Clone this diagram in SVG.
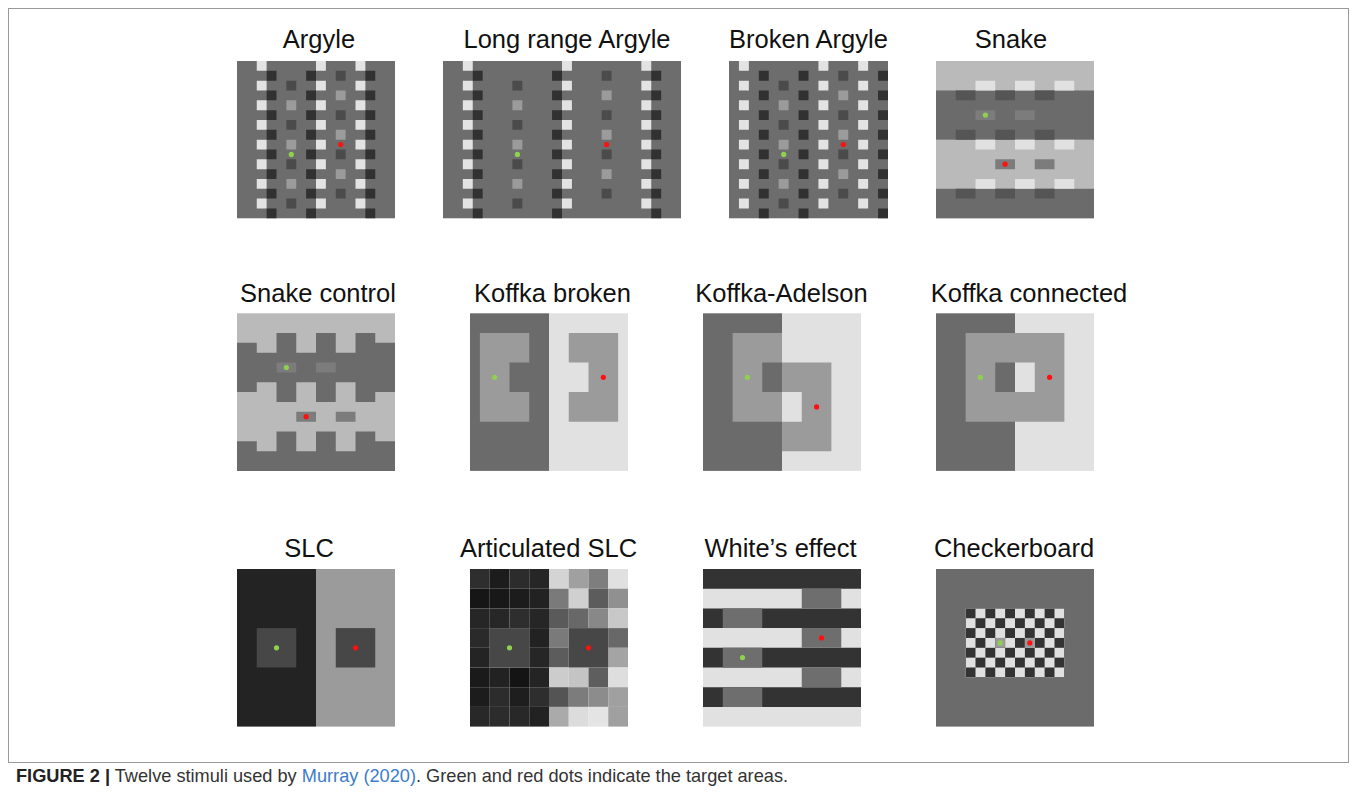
<svg xmlns="http://www.w3.org/2000/svg" width="1357" height="793" viewBox="0 0 1357 793">
<defs>
<style>
.t{font-family:"Liberation Sans",Arial,sans-serif;font-size:25.5px;fill:#111;text-anchor:middle}
.cap{font-family:"Liberation Sans",Arial,sans-serif;font-size:18.2px;fill:#333}
.bg{fill:#6d6d6d}
.w{stroke:#e3e3e3;stroke-width:1;stroke-dasharray:1 1;fill:none}
.d{stroke:#313131;stroke-width:1;stroke-dasharray:1 1;fill:none}
.tl{stroke:#9b9b9b;stroke-width:1;stroke-dasharray:1 3;fill:none}
.td{stroke:#4b4b4b;stroke-width:1;stroke-dasharray:1 3;fill:none}
.g{fill:#8fd14f}
.r{fill:#ff1010}
.lt{fill:#bababa}
.dk{fill:#6b6b6b}
.wh{fill:#e1e1e1}
.mid{fill:#9b9b9b}
.tg{fill:#7c7c7c}
.sq{fill:#555}
.slcd{fill:#232323}
.tsq{fill:#474747}
.wd{fill:#333}
.wp{fill:#6e6e6e}
</style>
<pattern id="chk" x="3" y="4" width="2" height="2" patternUnits="userSpaceOnUse"><rect width="2" height="2" fill="#e0e0e0"/><rect width="1" height="1" fill="#333"/><rect x="1" y="1" width="1" height="1" fill="#333"/></pattern>
</defs>
<rect width="1357" height="793" fill="#fff"/>
<rect x="8.5" y="8.5" width="1340" height="754" fill="none" stroke="#9a9a9a" stroke-width="1"/>

<g id="argyle">
<text class="t" x="319" y="48">Argyle</text>
<g transform="translate(237 61) scale(9.875 9.83)">
<rect class="bg" width="16" height="16"/>
<path class="w" d="M2.5 0V16"/><path class="w" d="M8.5 0V16"/><path class="w" d="M12.5 0V16"/>
<path class="d" d="M3.5 1V16"/><path class="d" d="M7.5 1V16"/><path class="d" d="M13.5 1V16"/>
<path class="td" d="M5.5 2V15"/><path class="td" d="M10.5 1V14"/>
<path class="tl" d="M5.5 4V13"/><path class="tl" d="M10.5 3V12"/>
</g>
<circle class="g" cx="291.3" cy="154.4" r="2.6"/>
<circle class="r" cx="340.7" cy="144.6" r="2.6"/>
</g>

<g id="long-range-argyle">
<text class="t" x="567" y="48">Long range Argyle</text>
<g transform="translate(443 61) scale(9.917 9.83)">
<rect class="bg" width="24" height="16"/>
<path class="w" d="M2.5 0V16"/><path class="w" d="M12.5 0V16"/><path class="w" d="M20.5 0V16"/>
<path class="d" d="M3.5 1V16"/><path class="d" d="M11.5 1V16"/><path class="d" d="M21.5 1V16"/>
<path class="td" d="M7.5 2V15"/><path class="td" d="M16.5 1V14"/>
<path class="tl" d="M7.5 4V13"/><path class="tl" d="M16.5 3V12"/>
</g>
<circle class="g" cx="517.4" cy="154.4" r="2.6"/>
<circle class="r" cx="606.6" cy="144.6" r="2.6"/>
</g>

<g id="broken-argyle">
<text class="t" x="808.5" y="48">Broken Argyle</text>
<g transform="translate(729 61) scale(9.9375 9.83)">
<rect class="bg" width="16" height="16"/>
<path class="w" d="M1.5 0V16"/><path class="w" d="M9.5 0V16"/><path class="w" d="M13.5 0V16"/>
<path class="d" d="M3.5 1V16"/><path class="d" d="M7.5 1V16"/><path class="d" d="M15.5 1V16"/>
<path class="td" d="M5.5 2V15"/><path class="td" d="M11.5 1V14"/>
<path class="tl" d="M5.5 4V13"/><path class="tl" d="M11.5 3V12"/>
</g>
<circle class="g" cx="783.7" cy="154.4" r="2.6"/>
<circle class="r" cx="843.3" cy="144.6" r="2.6"/>
</g>

<g id="snake">
<text class="t" x="1011" y="48">Snake</text>
<g transform="translate(936 61) scale(9.875 9.83)">
<rect class="lt" width="16" height="16"/>
<rect class="dk" y="3" width="16" height="5"/>
<rect class="dk" y="13" width="16" height="3"/>
<path class="wh" d="M4 2h2v1h-2zM8 2h2v1h-2zM12 2h2v1h-2zM4 8h2v1h-2zM8 8h2v1h-2zM12 8h2v1h-2zM4 12h2v1h-2zM8 12h2v1h-2zM12 12h2v1h-2z"/>
<path class="sq" d="M2 3h2v1h-2zM6 3h2v1h-2zM10 3h2v1h-2zM2 7h2v1h-2zM6 7h2v1h-2zM10 7h2v1h-2zM2 13h2v1h-2zM6 13h2v1h-2zM10 13h2v1h-2z"/>
<path class="tg" d="M4 5h2v1h-2zM8 5h2v1h-2zM6 10h2v1h-2zM10 10h2v1h-2z"/>
</g>
<circle class="g" cx="985.4" cy="115.1" r="2.6"/>
<circle class="r" cx="1005.1" cy="164.2" r="2.6"/>
</g>

<g id="snake-control">
<text class="t" x="318" y="302">Snake control</text>
<g transform="translate(237 313.3) scale(9.875 9.85)">
<rect class="lt" width="16" height="16"/>
<path class="dk" d="M0 3H2V4H4V2H6V4H8V2H10V4H12V2H14V3H16V8H14V9H12V7H10V9H8V7H6V9H4V7H2V8H0Z"/>
<path class="dk" d="M0 13H2V14H4V12H6V14H8V12H10V14H12V12H14V13H16V16H0Z"/>
<path class="tg" d="M4 5h2v1h-2zM8 5h2v1h-2zM6 10h2v1h-2zM10 10h2v1h-2z"/>
</g>
<circle class="g" cx="286.4" cy="367.5" r="2.6"/>
<circle class="r" cx="306.1" cy="416.7" r="2.6"/>
</g>

<g id="koffka-broken">
<text class="t" x="552.5" y="302">Koffka broken</text>
<g transform="translate(470 313.3) scale(9.875 9.85)">
<rect class="dk" width="8" height="16"/>
<rect class="wh" x="8" width="8" height="16"/>
<path class="mid" d="M1 2H6V5H4V8H6V11H1Z"/>
<path class="mid" d="M10 2H15V11H10V8H12V5H10Z"/>
</g>
<circle class="g" cx="494.7" cy="377.3" r="2.6"/>
<circle class="r" cx="603.3" cy="377.3" r="2.6"/>
</g>

<g id="koffka-adelson">
<text class="t" x="781.5" y="302">Koffka-Adelson</text>
<g transform="translate(703 313.3) scale(9.875 9.85)">
<rect class="dk" width="8" height="16"/>
<rect class="wh" x="8" width="8" height="16"/>
<path class="mid" d="M3 2H8V5H6V8H8V11H3Z"/>
<path class="mid" d="M8 5H13V14H8V11H10V8H8Z"/>
</g>
<circle class="g" cx="747.4" cy="377.3" r="2.6"/>
<circle class="r" cx="816.6" cy="406.9" r="2.6"/>
</g>

<g id="koffka-connected">
<text class="t" x="1029" y="302">Koffka connected</text>
<g transform="translate(936 313.3) scale(9.875 9.85)">
<rect class="dk" width="8" height="16"/>
<rect class="wh" x="8" width="8" height="16"/>
<path class="mid" d="M3 2H13V11H3ZM6 5V8H10V5Z"/>
</g>
<circle class="g" cx="980.4" cy="377.3" r="2.6"/>
<circle class="r" cx="1049.6" cy="377.3" r="2.6"/>
</g>

<g id="slc">
<text class="t" x="309" y="557">SLC</text>
<g transform="translate(237 569) scale(9.875 9.85)">
<rect class="slcd" width="8" height="16"/>
<rect class="mid" x="8" width="8" height="16"/>
<rect class="tsq" x="2" y="6" width="4" height="4"/>
<rect class="tsq" x="10" y="6" width="4" height="4"/>
</g>
<circle class="g" cx="276.5" cy="647.8" r="2.6"/>
<circle class="r" cx="355.5" cy="647.8" r="2.6"/>
</g>

<g id="articulated-slc">
<text class="t" x="548.5" y="557">Articulated SLC</text>
<g transform="translate(470 569) scale(9.875 9.85)">
<rect x="0" y="0" width="2" height="2" fill="#2e2e2e"/><rect x="2" y="0" width="2" height="2" fill="#1c1c1c"/><rect x="4" y="0" width="2" height="2" fill="#2c2c2c"/><rect x="6" y="0" width="2" height="2" fill="#262626"/>
<rect x="0" y="2" width="2" height="2" fill="#161616"/><rect x="2" y="2" width="2" height="2" fill="#181818"/><rect x="4" y="2" width="2" height="2" fill="#1c1c1c"/><rect x="6" y="2" width="2" height="2" fill="#222"/>
<rect x="0" y="4" width="2" height="2" fill="#262626"/><rect x="2" y="4" width="2" height="2" fill="#272727"/><rect x="4" y="4" width="2" height="2" fill="#2e2e2e"/><rect x="6" y="4" width="2" height="2" fill="#262626"/>
<rect x="0" y="6" width="2" height="2" fill="#2a2a2a"/><rect x="6" y="6" width="2" height="2" fill="#222"/>
<rect x="0" y="8" width="2" height="2" fill="#242424"/><rect x="6" y="8" width="2" height="2" fill="#262626"/>
<rect x="0" y="10" width="2" height="2" fill="#1a1a1a"/><rect x="2" y="10" width="2" height="2" fill="#222"/><rect x="4" y="10" width="2" height="2" fill="#141414"/><rect x="6" y="10" width="2" height="2" fill="#242424"/>
<rect x="0" y="12" width="2" height="2" fill="#1c1c1c"/><rect x="2" y="12" width="2" height="2" fill="#2c2c2c"/><rect x="4" y="12" width="2" height="2" fill="#1e1e1e"/><rect x="6" y="12" width="2" height="2" fill="#2e2e2e"/>
<rect x="0" y="14" width="2" height="2" fill="#282828"/><rect x="2" y="14" width="2" height="2" fill="#2c2c2c"/><rect x="4" y="14" width="2" height="2" fill="#282828"/><rect x="6" y="14" width="2" height="2" fill="#222"/>
<rect x="8" y="0" width="2" height="2" fill="#d4d4d4"/><rect x="10" y="0" width="2" height="2" fill="#a0a0a0"/><rect x="12" y="0" width="2" height="2" fill="#7e7e7e"/><rect x="14" y="0" width="2" height="2" fill="#e0e0e0"/>
<rect x="8" y="2" width="2" height="2" fill="#7a7a7a"/><rect x="10" y="2" width="2" height="2" fill="#d0d0d0"/><rect x="12" y="2" width="2" height="2" fill="#5c5c5c"/><rect x="14" y="2" width="2" height="2" fill="#909090"/>
<rect x="8" y="4" width="2" height="2" fill="#5a5a5a"/><rect x="10" y="4" width="2" height="2" fill="#686868"/><rect x="12" y="4" width="2" height="2" fill="#888"/><rect x="14" y="4" width="2" height="2" fill="#c8c8c8"/>
<rect x="8" y="6" width="2" height="2" fill="#7a7a7a"/><rect x="14" y="6" width="2" height="2" fill="#686868"/>
<rect x="8" y="8" width="2" height="2" fill="#5c5c5c"/><rect x="14" y="8" width="2" height="2" fill="#a4a4a4"/>
<rect x="8" y="10" width="2" height="2" fill="#ccc"/><rect x="10" y="10" width="2" height="2" fill="#c4c4c4"/><rect x="12" y="10" width="2" height="2" fill="#5e5e5e"/><rect x="14" y="10" width="2" height="2" fill="#dedede"/>
<rect x="8" y="12" width="2" height="2" fill="#545454"/><rect x="10" y="12" width="2" height="2" fill="#7c7c7c"/><rect x="12" y="12" width="2" height="2" fill="#8c8c8c"/><rect x="14" y="12" width="2" height="2" fill="#a0a0a0"/>
<rect x="8" y="14" width="2" height="2" fill="#aaa"/><rect x="10" y="14" width="2" height="2" fill="#dcdcdc"/><rect x="12" y="14" width="2" height="2" fill="#e4e4e4"/><rect x="14" y="14" width="2" height="2" fill="#a0a0a0"/>
<rect class="tsq" x="2" y="6" width="4" height="4"/>
<rect class="tsq" x="10" y="6" width="4" height="4"/>
</g>
<circle class="g" cx="509.5" cy="647.8" r="2.6"/>
<circle class="r" cx="588.5" cy="647.8" r="2.6"/>
</g>

<g id="whites-effect">
<text class="t" x="780.5" y="557">White’s effect</text>
<g transform="translate(703 569) scale(9.875 9.85)">
<rect class="wh" width="16" height="16"/>
<path class="wd" d="M0 0h16v2h-16zM0 4h16v2h-16zM0 8h16v2h-16zM0 12h16v2h-16z"/>
<path class="wp" d="M2 4h4v2h-4zM2 8h4v2h-4zM2 12h4v2h-4zM10 2h4v2h-4zM10 6h4v2h-4zM10 10h4v2h-4z"/>
</g>
<circle class="g" cx="742.5" cy="657.6" r="2.6"/>
<circle class="r" cx="821.5" cy="637.9" r="2.6"/>
</g>

<g id="checkerboard">
<text class="t" x="1014" y="557">Checkerboard</text>
<g transform="translate(936 569) scale(9.875 9.85)">
<rect class="dk" width="16" height="16"/>
<rect x="3" y="4" width="10" height="7" fill="url(#chk)"/>
<rect x="6" y="7" width="1" height="1" fill="#9a9a9a"/>
<rect x="9" y="7" width="1" height="1" fill="#9a9a9a"/>
</g>
<circle class="g" cx="1000.2" cy="642.9" r="2.6"/>
<circle class="r" cx="1029.8" cy="642.9" r="2.6"/>
</g>

<text class="cap" x="16" y="782"><tspan font-weight="bold" fill="#222">FIGURE 2 |</tspan> Twelve stimuli used by <tspan fill="#3d7cc9">Murray (2020)</tspan>. Green and red dots indicate the target areas.</text>
</svg>
